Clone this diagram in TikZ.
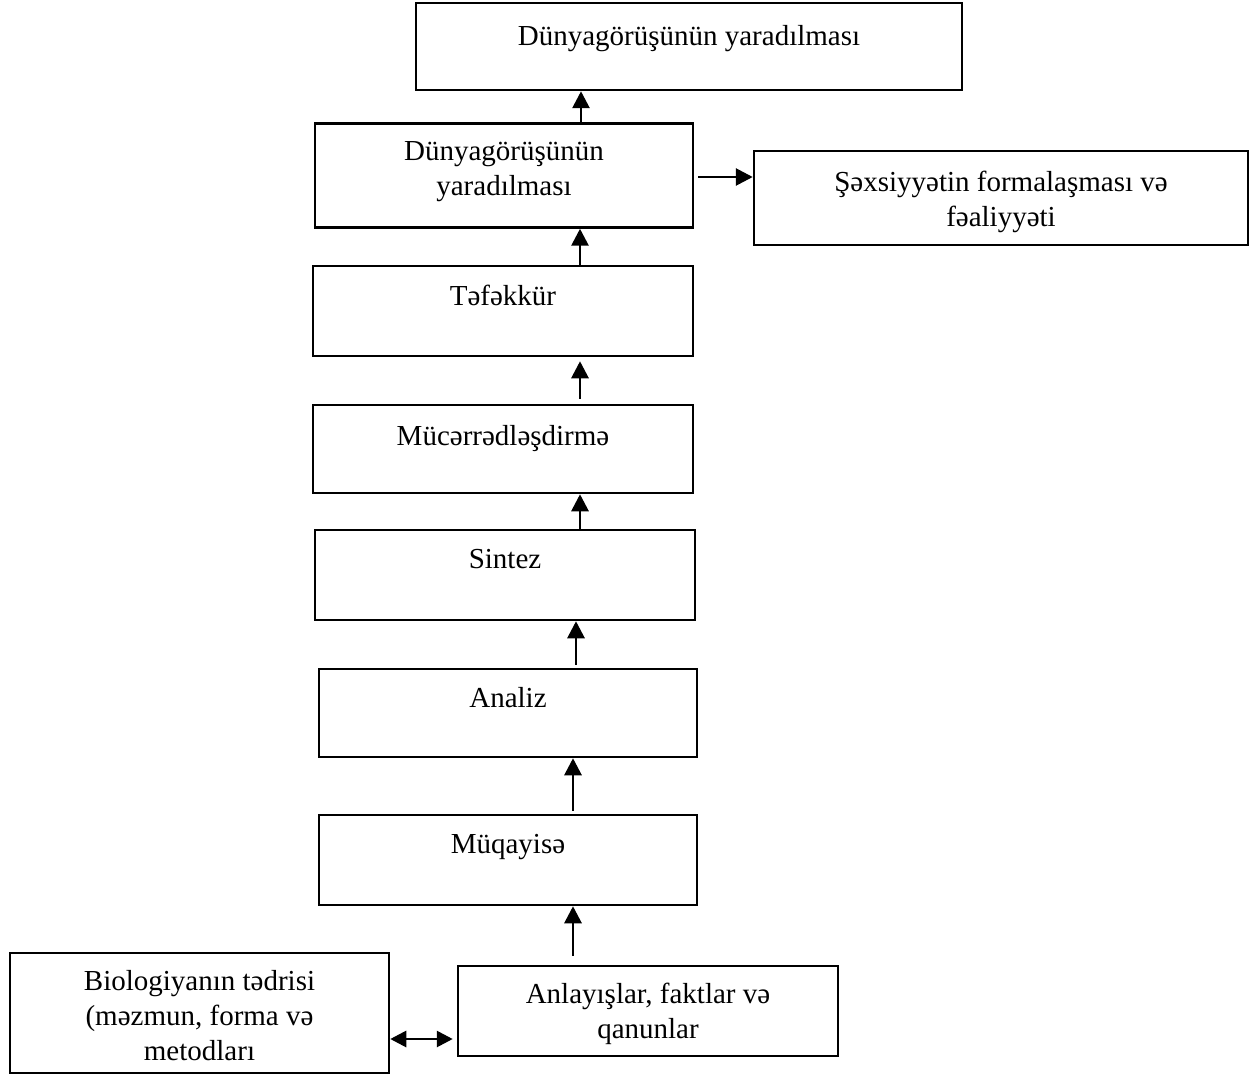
\documentclass[tikz,border=0pt]{standalone}
\usepackage{fontspec}
\setmainfont{Liberation Serif}
\usetikzlibrary{arrows.meta,calc}
\begin{document}
\begin{tikzpicture}[x=1pt,y=-1pt,
  box/.style={draw, line width=2.5pt, rectangle, inner sep=0pt},
  lbl/.style={anchor=north, inner sep=0pt, align=center, font=\fontsize{29}{35}\selectfont},
  arr/.style={line width=2.8pt, -{Triangle[length=17pt,width=17pt]}},
  darr/.style={line width=2.8pt, {Triangle[length=16pt,width=16pt]}-{Triangle[length=16pt,width=16pt]}}]
\useasboundingbox (0,0) rectangle (1250,1075);
% boxes
\node[box, minimum width=546pt, minimum height=87pt]  (b1)  at (689,46.5) {};
\node[box, minimum width=378pt, minimum height=104pt] (b2)  at (504,175.5) {};
\node[box, minimum width=494pt, minimum height=94pt]  (b3)  at (1001,198) {};
\node[box, minimum width=380pt, minimum height=90pt]  (b4)  at (503,311) {};
\node[box, minimum width=380pt, minimum height=88pt]  (b5)  at (503,449) {};
\node[box, minimum width=380pt, minimum height=90pt]  (b6)  at (505,575) {};
\node[box, minimum width=378pt, minimum height=88pt]  (b7)  at (508,713) {};
\node[box, minimum width=378pt, minimum height=90pt]  (b8)  at (508,860) {};
\node[box, minimum width=380pt, minimum height=90pt]  (b9)  at (648,1011) {};
\node[box, minimum width=379pt, minimum height=120pt] (b10) at (199.5,1013) {};
% labels
\node[lbl] (t1)  at ($(b1.north)+(0,23)$) {Dünyagörüşünün yaradılması};
\node[lbl] (t2)  at ($(b2.north)+(0,19)$) {Dünyagörüşünün\\yaradılması};
\node[lbl] (t3)  at ($(b3.north)+(0,21)$) {Şəxsiyyətin formalaşması və\\fəaliyyəti};
\node[lbl] (t4)  at ($(b4.north)+(0,20)$) {Təfəkkür};
\node[lbl] (t5)  at ($(b5.north)+(0,21)$) {Mücərrədləşdirmə};
\node[lbl] (t6)  at ($(b6.north)+(0,20)$) {Sintez};
\node[lbl] (t7)  at ($(b7.north)+(0,19)$) {Analiz};
\node[lbl] (t8)  at ($(b8.north)+(0,20)$) {Müqayisə};
\node[lbl] (t9)  at ($(b9.north)+(0,18)$) {Anlayışlar, faktlar və\\qanunlar};
\node[lbl] (t10) at ($(b10.north)+(0,18)$) {Biologiyanın tədrisi\\(məzmun, forma və\\metodları};
% arrow columns
\coordinate (c1) at (581,0);
\coordinate (c2) at (580,0);
\coordinate (c3) at (576,0);
\coordinate (c4) at (573,0);
\coordinate (r1) at (0,177);
\coordinate (r2) at (0,1039);
% connectors
\draw[arr] (b2.north -| c1) -- (b1.south -| c1);
\draw[arr, shorten <=4pt] (b2.east |- r1) -- (b3.west |- r1);
\draw[arr] (b4.north -| c2) -- (b2.south -| c2);
\draw[arr, shorten <=5pt, shorten >=4pt] (b5.north -| c2) -- (b4.south -| c2);
\draw[arr] (b6.north -| c2) -- (b5.south -| c2);
\draw[arr, shorten <=3pt] (b7.north -| c3) -- (b6.south -| c3);
\draw[arr, shorten <=3pt] (b8.north -| c4) -- (b7.south -| c4);
\draw[arr, shorten <=9pt] (b9.north -| c4) -- (b8.south -| c4);
\draw[darr, shorten >=4pt] (b10.east |- r2) -- (b9.west |- r2);
\end{tikzpicture}
\end{document}
